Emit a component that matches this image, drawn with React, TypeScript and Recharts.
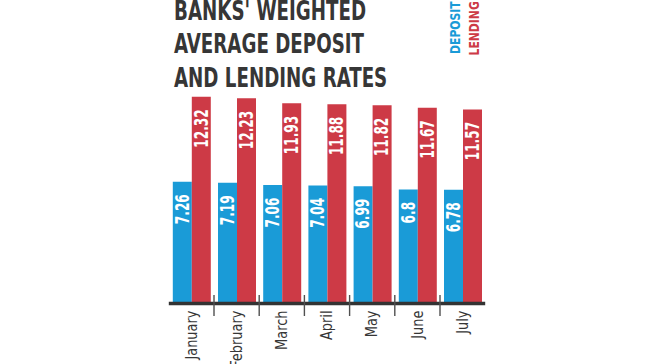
import { Bar, BarChart, LabelList, XAxis, YAxis } from "recharts";

const months = ["January", "February", "March", "April", "May", "June", "July"];
const deposit = [7.26, 7.19, 7.06, 7.04, 6.99, 6.8, 6.78];
const lending = [12.32, 12.23, 11.93, 11.88, 11.82, 11.67, 11.57];
const titleLines = ["BANKS' WEIGHTED", "AVERAGE DEPOSIT", "AND LENDING RATES"];
const seriesNames = ["DEPOSIT", "LENDING"];

const BLUE = "#1a9bd7";
const RED = "#cd3a46";
const INK = "#363636";
const FONT = '"DejaVu Sans Condensed", "DejaVu Sans", sans-serif';

const W = 650;
const H = 364;
const MARGIN = { top: 85.4, right: 164.8, bottom: 2.5, left: 168.8 };
const BAND = (W - MARGIN.left - MARGIN.right) / months.length;

const data = months.map((month, i) => ({
  month,
  deposit: deposit[i],
  lending: lending[i],
}));

// rotated text, squeezed along its reading direction to mimic a condensed face
const vText = (x: number, y: number, squeeze: number) =>
  `translate(${x} ${y}) rotate(-90) scale(${squeeze} 1)`;

const MonthTick = (props: any) => {
  const x = Number(props.x);
  const y = Number(props.y);
  const label = props.payload?.value;
  const i = months.indexOf(label);
  return (
    <g>
      {i < months.length - 1 && (
        <line
          x1={x + BAND / 2}
          x2={x + BAND / 2}
          y1={y - 8.5}
          y2={y + 12.5}
          stroke="#505050"
          strokeWidth={1.4}
        />
      )}
      <text
        transform={vText(x, y + 7, 0.9)}
        textAnchor="end"
        dominantBaseline="central"
        fill={INK}
        fontFamily={FONT}
        fontSize={16}
      >
        {label}
      </text>
    </g>
  );
};

const renderBarLabel = (props: any) => {
  const x = Number(props.x) + Number(props.width) / 2;
  const y = Number(props.y) + 12.5;
  return (
    <text
      transform={vText(x, y, 0.71)}
      textAnchor="end"
      dominantBaseline="central"
      fill="#fff"
      fontFamily={FONT}
      fontWeight="bold"
      fontSize={19}
    >
      {props.value}
    </text>
  );
};

const App = () => {
  return (
    <div
      style={{
        position: "absolute",
        left: 0,
        top: 0,
        width: W,
        height: H,
        background: "#fff",
      }}
    >
      <BarChart
        width={W}
        height={H}
        data={data}
        margin={MARGIN}
        barCategoryGap={4}
        barGap={0}
      >
        <XAxis
          dataKey="month"
          height={58}
          interval={0}
          tickLine={false}
          tickSize={0}
          tickMargin={0}
          axisLine={{ stroke: "#333", strokeWidth: 3.5 }}
          tick={MonthTick}
        />
        <YAxis hide domain={[0, 13]} />
        <Bar dataKey="deposit" fill={BLUE} isAnimationActive={false}>
          <LabelList dataKey="deposit" content={renderBarLabel} />
        </Bar>
        <Bar dataKey="lending" fill={RED} isAnimationActive={false}>
          <LabelList dataKey="lending" content={renderBarLabel} />
        </Bar>
      </BarChart>
      <svg
        width={W}
        height={H}
        style={{ position: "absolute", left: 0, top: 0, pointerEvents: "none" }}
      >
        <g transform="translate(174 0) scale(0.78 1)">
          {titleLines.map((line, i) => (
            <text
              key={line}
              x={0}
              y={20 + i * 33.5}
              fill={INK}
              fontFamily={FONT}
              fontWeight="bold"
              fontSize={26}
            >
              {line}
            </text>
          ))}
        </g>
        {seriesNames.map((name, i) => (
          <text
            key={name}
            transform={vText(459.6 + i * 19.3, 54 + i * 1.5, 0.86)}
            fill={i === 0 ? BLUE : RED}
            fontFamily={FONT}
            fontWeight="bold"
            fontSize={14}
          >
            {name}
          </text>
        ))}
      </svg>
    </div>
  );
};

export default App;
